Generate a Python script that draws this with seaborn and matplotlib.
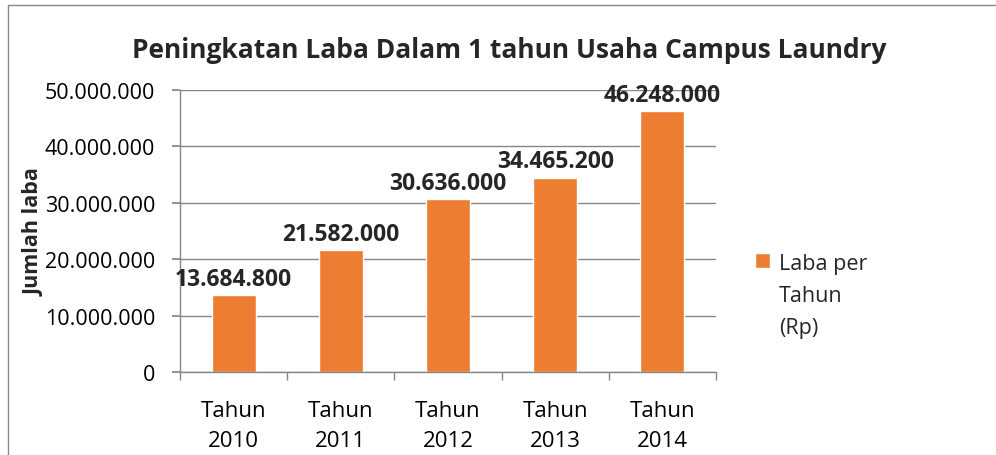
import matplotlib
matplotlib.use("Agg")
import matplotlib.pyplot as plt
import matplotlib.ticker as mticker
from matplotlib.patches import Rectangle
import seaborn as sns
import pandas as pd

categories = ["Tahun\n2010", "Tahun\n2011", "Tahun\n2012", "Tahun\n2013", "Tahun\n2014"]
values = [13684800, 21582000, 30636000, 34465200, 46248000]
series_name = "Laba per\nTahun\n(Rp)"
title = "Peningkatan Laba Dalam 1 tahun Usaha Campus Laundry"
ylabel = "Jumlah laba"

sns.set_theme(style="white")
plt.rcParams['font.family'] = ['Open Sans', 'DejaVu Sans']

df = pd.DataFrame({"cat": categories, "val": values, "series": series_name})

fig = plt.figure(figsize=(9.96, 4.56), dpi=100)
ax = fig.add_axes([180/996, 1-373/456, (716-180)/996, (373-91)/456])

orange = "#ED7D31"
sns.barplot(data=df, x="cat", y="val", hue="series", palette=[orange], width=0.41,
            ax=ax, legend=True, saturation=1)

ax.set_ylim(0, 50000000)
ax.set_xlim(-0.5, 4.5)
ax.yaxis.set_major_locator(mticker.MultipleLocator(10000000))
fmt = lambda v, p: f"{int(v):,}".replace(",", ".")
ax.yaxis.set_major_formatter(mticker.FuncFormatter(fmt))
ax.grid(axis="y", color="#868686", linewidth=1)
ax.set_axisbelow(True)
for s in ["top", "right"]:
    ax.spines[s].set_visible(False)
for s in ["left", "bottom"]:
    ax.spines[s].set_color("#868686")
    ax.spines[s].set_linewidth(1)

ax.tick_params(axis="y", which="major", left=True, length=6, color="#868686", labelsize=15.5, pad=12, labelcolor="#000000")
ax.tick_params(axis="x", which="major", bottom=False, length=0, labelsize=16, pad=20, labelcolor="#000000")
ax.set_xticks([-0.5, 0.5, 1.5, 2.5, 3.5, 4.5], minor=True)
ax.tick_params(axis="x", which="minor", bottom=True, length=6, color="#868686", width=1)
for lbl in ax.get_xticklabels():
    lbl.set_linespacing(1.55)

ax.set_xlabel("")
ax.set_ylabel("")
fig.text(34/996, 1-232/456, ylabel, rotation=90, ha="center", va="center",
         fontsize=15.5, fontweight="bold")

for i, v in enumerate(values):
    ax.annotate(fmt(v, None), (i, v), xytext=(0, 3), textcoords="offset points",
                ha="center", va="bottom", fontsize=16.5, fontweight="bold")

fig.text(509/996, 1-50/456, title, ha="center", va="center", fontsize=19, fontweight="bold")

leg = ax.legend(loc="upper left", bbox_to_anchor=(755/996, 1-254/456), bbox_transform=fig.transFigure,
                frameon=False, fontsize=15.5, handlelength=0.7, handleheight=0.7, handletextpad=0.4,
                borderpad=0, borderaxespad=0)
for t in leg.get_texts():
    t.set_linespacing(1.7)
for col in leg._legend_handle_box.get_children():
    for row in col.get_children():
        row.align = "top"

fig.patches.append(Rectangle((8/996, -0.1), 1.2, 1.1 - 6/456, transform=fig.transFigure,
                             fill=False, edgecolor="#888888", linewidth=1))

fig.savefig("out.png", dpi=100)
